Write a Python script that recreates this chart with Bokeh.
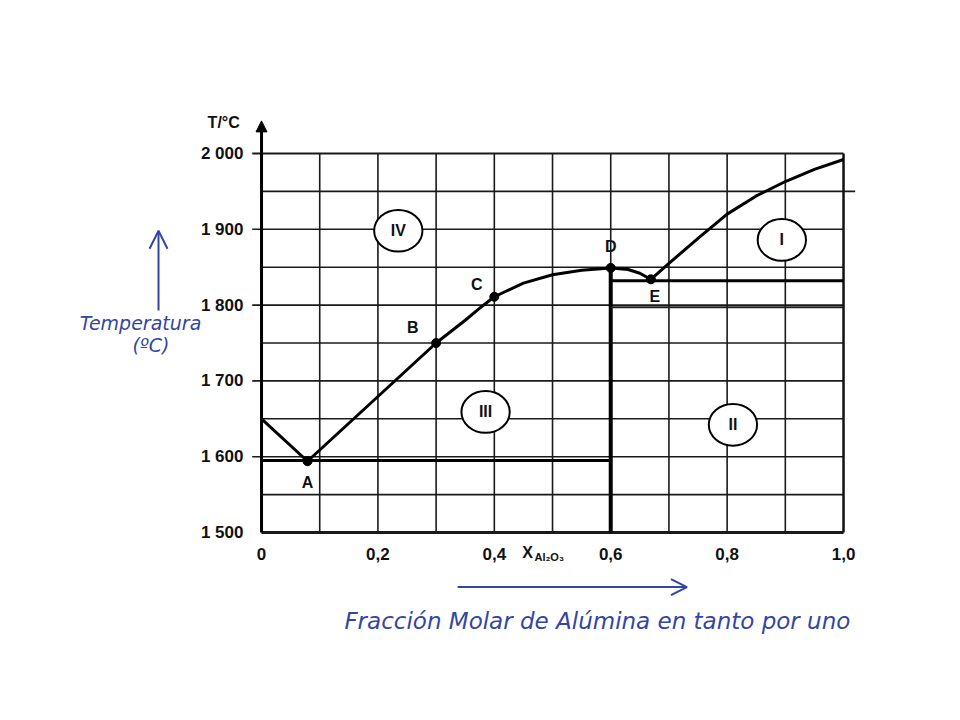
from bokeh.plotting import figure
from bokeh.models import Range1d, Arrow, OpenHead, NormalHead
from bokeh.embed import file_html
from bokeh.resources import INLINE
from bokeh.core.properties import value

# ---- data ----
left_branch_x = [0.0, 0.079]
left_branch_y = [1650, 1594]
mid_branch_x = [0.079, 0.30, 0.35, 0.375, 0.40, 0.45, 0.50, 0.55, 0.60, 0.63, 0.65, 0.669]
mid_branch_y = [1594, 1750, 1780, 1796, 1811, 1829, 1840, 1846, 1849, 1847, 1842, 1834]
right_branch_x = [0.669, 0.70, 0.75, 0.80, 0.85, 0.90, 0.95, 1.0]
right_branch_y = [1834, 1855, 1888, 1920, 1944, 1963, 1979, 1992]

point_names = ["A", "B", "C", "D", "E"]
point_x = [0.079, 0.30, 0.40, 0.60, 0.669]
point_y = [1594, 1750, 1811, 1849, 1834]
point_label_x = [0.079, 0.26, 0.37, 0.60, 0.676]
point_label_y = [1566, 1770, 1827, 1877, 1811]

region_names = ["IV", "I", "III", "II"]
region_x = [0.235, 0.894, 0.385, 0.81]
region_y = [1898, 1886, 1659, 1642]

eutectic_A_T = 1595
eutectic_E_T = 1832
compound_x = 0.6
compound_T = 1849

y_ticks = [1500, 1600, 1700, 1800, 1900, 2000]
y_tick_labels = ["1 500", "1 600", "1 700", "1 800", "1 900", "2 000"]
x_ticks = [0, 0.2, 0.4, 0.6, 0.8, 1.0]
x_tick_labels = ["0", "0,2", "0,4", "0,6", "0,8", "1,0"]

grid_T = [1500, 1550, 1600, 1650, 1700, 1750, 1800, 1850, 1900, 1950, 2000]
grid_x = [0.1, 0.2, 0.3, 0.4, 0.5, 0.6, 0.7, 0.8, 0.9]

FONT = value("Liberation Sans")
HAND = value("DejaVu Sans")
BLUE = "#3345a6"
INK = "#111111"

p = figure(width=944, height=704, output_backend="svg", toolbar_location=None,
           x_range=Range1d(-0.4485, 1.1735), y_range=Range1d(1273.1, 2201.8),
           x_axis_type=None, y_axis_type=None, min_border=0)
p.outline_line_color = None
p.background_fill_color = "white"
p.border_fill_color = "white"

# tick labels from the tick arrays
p.text([-0.031] * len(y_ticks), y_ticks, text=y_tick_labels, text_font=FONT, text_font_style="bold",
       text_font_size="17px", text_align="right", text_baseline="middle", text_color=INK)
p.text(x_ticks, [1472] * len(x_ticks), text=x_tick_labels, text_font=FONT, text_font_style="bold",
       text_font_size="17px", text_align="center", text_baseline="middle", text_color=INK)

# grid
for t in grid_T:
    x0 = -0.016 if t in y_ticks and t != 1500 else 0.0
    x1 = 1.02 if t == 1950 else 1.0
    w = 3 if t == 1500 else (1.9 if t == 2000 else 1.6)
    p.line([x0, x1], [t, t], line_color="#1a1a1a", line_width=w)
for gx in grid_x:
    p.line([gx, gx], [1500, 2000], line_color="#1a1a1a", line_width=1.6)
p.line([1.0, 1.0], [1500, 2000], line_color=INK, line_width=2.5)

# y axis with arrow
p.add_layout(Arrow(end=NormalHead(size=11, fill_color="black", line_color="black"),
                   x_start=0, y_start=1500, x_end=0, y_end=2043,
                   line_width=3, line_color="black"))

# phase lines
p.line([0, compound_x], [eutectic_A_T, eutectic_A_T], line_color="black", line_width=3)
p.line([compound_x, compound_x], [1500, compound_T], line_color="black", line_width=4)
p.line([compound_x, 1.0], [eutectic_E_T, eutectic_E_T], line_color="black", line_width=3)
p.line([compound_x, 1.0], [1797, 1797], line_color="#222222", line_width=2)

# liquidus
for xs, ys in ((left_branch_x, left_branch_y), (mid_branch_x, mid_branch_y), (right_branch_x, right_branch_y)):
    p.line(xs, ys, line_color="black", line_width=3, line_join="round")

p.scatter(point_x, point_y, size=9, color="black")
p.text(point_label_x, point_label_y, text=point_names, text_font=FONT, text_font_style="bold",
       text_font_size="16px", text_align="center", text_baseline="middle", text_color=INK)

# regions
p.ellipse(region_x, region_y, width=0.083, height=55, fill_color="white",
          line_color="black", line_width=2)
p.text(region_x, region_y, text=region_names, text_font=FONT, text_font_style="bold",
       text_font_size="16px", text_align="center", text_baseline="middle", text_color=INK)

# axis titles
p.text([-0.065], [2041], text=["T/°C"], text_font=FONT, text_font_style="bold",
       text_font_size="16px", text_align="center", text_baseline="middle", text_color=INK)
p.text([0.457], [1474], text=["X"], text_font=FONT, text_font_style="bold",
       text_font_size="16px", text_align="center", text_baseline="middle", text_color=INK)
p.text([0.469], [1468], text=["Al₂O₃"], text_font=FONT, text_font_style="bold",
       text_font_size="11px", text_align="left", text_baseline="middle", text_color=INK)

# handwritten annotations
p.text([-0.208], [1776], text=["Temperatura"], text_font=HAND, text_font_style="italic",
       text_font_size="19px", text_align="center", text_baseline="middle", text_color=BLUE)
p.text([-0.19], [1748], text=["(ºC)"], text_font=HAND, text_font_style="italic",
       text_font_size="19px", text_align="center", text_baseline="middle", text_color=BLUE)
p.add_layout(Arrow(end=OpenHead(size=18, line_color=BLUE, line_width=2),
                   x_start=-0.177, y_start=1793, x_end=-0.177, y_end=1898,
                   line_width=2, line_color=BLUE))
p.text([0.577], [1383], text=["Fracción Molar de Alúmina en tanto por uno"], text_font=HAND,
       text_font_style="italic", text_font_size="23px", text_align="center", text_baseline="middle",
       text_color=BLUE)
p.add_layout(Arrow(end=OpenHead(size=16, line_color=BLUE, line_width=2),
                   x_start=0.337, y_start=1428, x_end=0.731, y_end=1428,
                   line_width=2, line_color=BLUE))

open("out.html", "w").write(file_html(p, INLINE))
